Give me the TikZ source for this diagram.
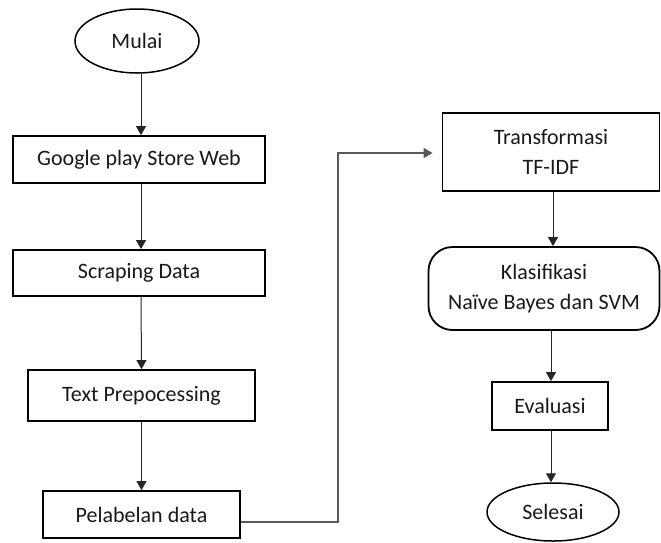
\documentclass[tikz,border=0pt]{standalone}
\usepackage{fontspec}
\setmainfont{Carlito}
\usetikzlibrary{shapes.geometric,arrows.meta,calc}
\begin{document}
\begin{tikzpicture}[x=1pt,y=-1pt,
  every node/.style={font=\fontsize{22}{30}\selectfont, inner sep=0pt, align=center, text=black!90},
  boxnode/.style={draw, line width=1.8pt, rectangle},
  ovalnode/.style={draw, line width=1.5pt, ellipse},
  roundnode/.style={draw, line width=1.8pt, rectangle, rounded corners=24pt},
  arr/.style={draw=black!85, line width=1pt, -{Triangle[length=9pt,width=10pt]}},
  longarr/.style={draw=black!65, line width=1.2pt, -{Triangle[length=9pt,width=10pt]}}]
\useasboundingbox (0,0) rectangle (661,542);
\node[ovalnode, minimum width=124pt, minimum height=64pt] (mulai) at (137,41) {Mulai};
\node[boxnode, minimum width=252pt, minimum height=47pt] (google) at (139,159.5) {Google play Store Web};
\node[boxnode, minimum width=252pt, minimum height=46pt] (scraping) at (139,273) {Scraping Data};
\node[boxnode, minimum width=227pt, minimum height=51pt] (textp) at (141.5,395.5) {Text Prepocessing};
\node[boxnode, minimum width=197pt, minimum height=47pt] (pelabelan) at (141.5,514.5) {Pelabelan data};
\node[boxnode, minimum width=217pt, minimum height=78pt] (transformasi) at (551,152) {Transformasi\\TF-IDF};
\node[roundnode, minimum width=231pt, minimum height=83pt] (klasifikasi) at (544,288.5) {Klasifikasi\\Naïve Bayes dan SVM};
\node[boxnode, minimum width=116pt, minimum height=48pt] (evaluasi) at (550,406) {Evaluasi};
\node[ovalnode, minimum width=132pt, minimum height=58pt] (selesai) at (553,512) {Selesai};
\coordinate (bend) at (338,522);
\draw[arr] ([xshift=4pt]mulai.south) -- ([xshift=2pt]google.north);
\draw[arr] ([xshift=2pt]google.south) -- ([xshift=2pt]scraping.north);
\draw[arr] ([xshift=2pt]scraping.south) -- (textp.north);
\draw[arr] (textp.north |- textp.south) -- (pelabelan.north);
\draw[longarr] ([yshift=-7.5pt]pelabelan.east) -- (bend) |- ([xshift=-9pt,yshift=-1pt]transformasi.west);
\draw[arr] ([xshift=2pt]transformasi.south) -- ([xshift=9pt]klasifikasi.north);
\draw[arr] ([xshift=7pt]klasifikasi.south) -- ([xshift=1pt]evaluasi.north);
\draw[arr] ([xshift=1pt]evaluasi.south) -- ([xshift=-2pt]selesai.north);
\end{tikzpicture}
\end{document}
